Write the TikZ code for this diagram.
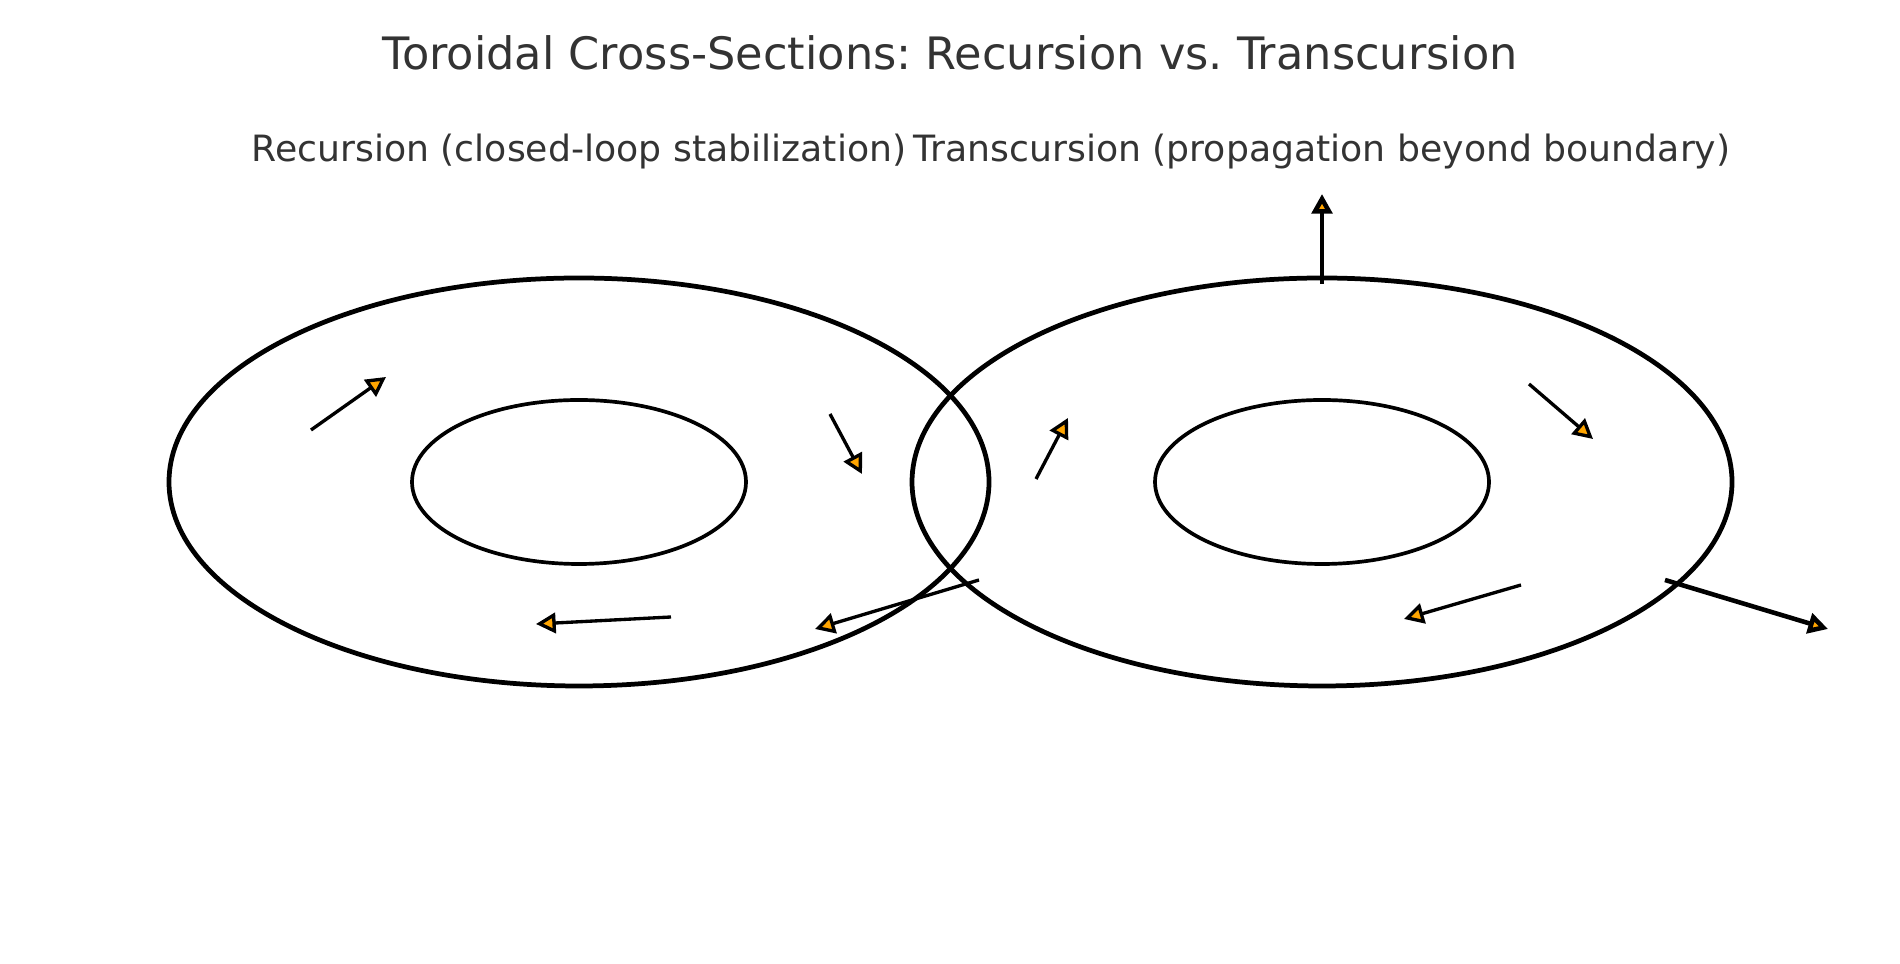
\documentclass[tikz,border=0pt]{standalone}
\usepackage{fontspec}
\setmainfont{DejaVu Sans}
\frenchspacing
\usetikzlibrary{arrows.meta}
\definecolor{titlegray}{HTML}{333333}
\definecolor{tiporange}{HTML}{FFA500}

\begin{document}
\begin{tikzpicture}[x=0.01cm, y=0.01cm,
    outer/.style={line width=1.35pt},
    inner/.style={line width=1.05pt},
    flow/.style={line width=0.95pt, line join=round,
                 -{Triangle[length=5.6pt, width=5.8pt, fill=tiporange]}},
    escape/.style={flow, line width=1.3pt},
    heading/.style={text=titlegray, inner sep=0pt},
  ]
    \useasboundingbox (0,0) rectangle (1900,964);

    % titles
    \node[heading, font=\fontsize{12.7}{15}\selectfont] (T)  at (950, 911) {Toroidal Cross-Sections: Recursion vs. Transcursion};
    \node[heading, font=\fontsize{10.3}{12}\selectfont]  (TL) at (579, 812) {Recursion (closed-loop stabilization)};
    \node[heading, font=\fontsize{10.3}{12}\selectfont]  (TR) at (1322, 812) {Transcursion (propagation beyond boundary)};

    % cross-sections
    \coordinate (L) at (579, 482);
    \coordinate (R) at (1322, 482);
    \foreach \c in {L, R} {
      \draw[outer] (\c) ellipse [x radius=410, y radius=204];
      \draw[inner] (\c) ellipse [x radius=167, y radius=82];
    }

    % circulating arrows
    \foreach \n/\a/\b in {1/{311,534}/{386,587}, 2/{830,550}/{862,490},
                          3/{671,347}/{536,340}, 4/{979,384}/{815,335},
                          5/{1036,485}/{1068,546}, 6/{1529,580}/{1593,525},
                          7/{1521,379}/{1404,345}} {
      \coordinate (s\n) at (\a);
      \coordinate (e\n) at (\b);
      \draw[flow] (s\n) -- (e\n);
    }

    % propagation beyond the boundary
    \coordinate (s8) at (1665, 384);
    \coordinate (e8) at (1828, 335);
    \coordinate (s9) at (1322, 680);
    \coordinate (e9) at (1322, 770);
    \draw[escape] (s8) -- (e8);
    \draw[escape] (s9) -- (e9);
  \end{tikzpicture}
\end{document}
